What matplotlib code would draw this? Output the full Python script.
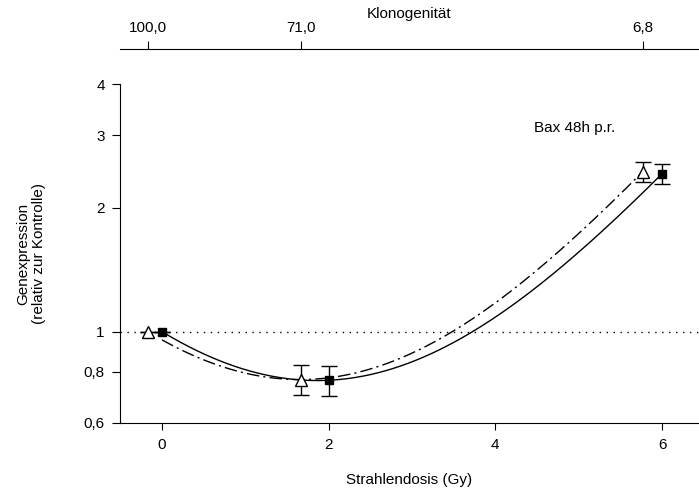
import numpy as np
import matplotlib
matplotlib.use("Agg")
import matplotlib.pyplot as plt

plt.rcParams["font.family"] = ["Liberation Sans", "DejaVu Sans"]

# measured points (squares, filled)
dose_sq = [0, 2, 6]
expr_sq = [1.0, 0.762, 2.42]
err_sq = [0.0, 0.065, 0.14]

# shifted points (triangles, open)
dose_tri = [-0.17, 1.67, 5.77]
expr_tri = [1.0, 0.765, 2.45]
err_tri = [0.0, 0.065, 0.14]

yticks = [0.6, 0.8, 1, 2, 3, 4]
ytick_labels = ["0,6", "0,8", "1", "2", "3", "4"]
xticks = [0, 2, 4, 6]
top_ticks = [-0.17, 1.67, 5.77]
top_labels = ["100,0", "71,0", "6,8"]

fs = 11

fig = plt.figure(figsize=(6.99, 4.95), dpi=100)
ax = fig.add_axes([0.1717, 0.1455, 0.8283, 0.6848])

# quadratic regression on cube-root transformed expression
def fit_curve(x, y, x_from):
    c = np.polyfit(x, np.cbrt(y), 2)
    xx = np.linspace(x_from, x[-1], 200)
    return xx, np.polyval(c, xx) ** 3

xs, ys = fit_curve(dose_sq, expr_sq, 0)
xt, yt = fit_curve(dose_tri, expr_tri, 0)
ax.plot(xs, ys, color="black", lw=1.0)
ax.plot(xt, yt, color="black", lw=1.0, linestyle=(0, (9, 3, 1.5, 3)))

ax.axhline(1, color="black", lw=1.0, linestyle=(0, (1, 4)))

ax.errorbar(dose_tri, expr_tri, yerr=err_tri, fmt="^", color="black",
            mfc="white", mec="black", ms=8, capsize=6, elinewidth=1, capthick=1)
ax.errorbar(dose_sq, expr_sq, yerr=err_sq, fmt="s", color="black",
            mfc="black", mec="black", ms=6, capsize=6, elinewidth=1, capthick=1)

ax.set_yscale("log")
ax.set_ylim(0.6, 4)
ax.set_xlim(-0.504, 6.444)
ax.set_yticks(yticks)
ax.set_yticklabels(ytick_labels)
ax.yaxis.set_minor_locator(matplotlib.ticker.NullLocator())
ax.set_xticks(xticks)
ax.set_xticklabels([str(t) for t in xticks])
ax.spines["top"].set_visible(False)
ax.spines["right"].set_visible(False)
ax.tick_params(axis="y", direction="out", length=6, labelsize=fs, pad=5)
ax.tick_params(axis="x", direction="out", length=5, labelsize=fs, pad=6)

ax.set_xlabel("Strahlendosis (Gy)", fontsize=fs, labelpad=15)
ax.set_ylabel("Genexpression\n(relativ zur Kontrolle)", fontsize=fs, labelpad=27)

ax.text(4.95, 3.12, "Bax 48h p.r.", fontsize=fs, ha="center", va="center")

# clonogenic survival axis on top
top = ax.twiny()
top.set_xlim(ax.get_xlim())
top.spines["top"].set_position(("outward", 25.2))
for s in ["left", "right", "bottom"]:
    top.spines[s].set_visible(False)
top.set_xticks(top_ticks)
top.set_xticklabels(top_labels)
top.tick_params(axis="x", direction="out", length=6, labelsize=fs, pad=4)
top.set_xlabel("Klonogenität", fontsize=fs, labelpad=2)

fig.savefig("out.png", dpi=100)
